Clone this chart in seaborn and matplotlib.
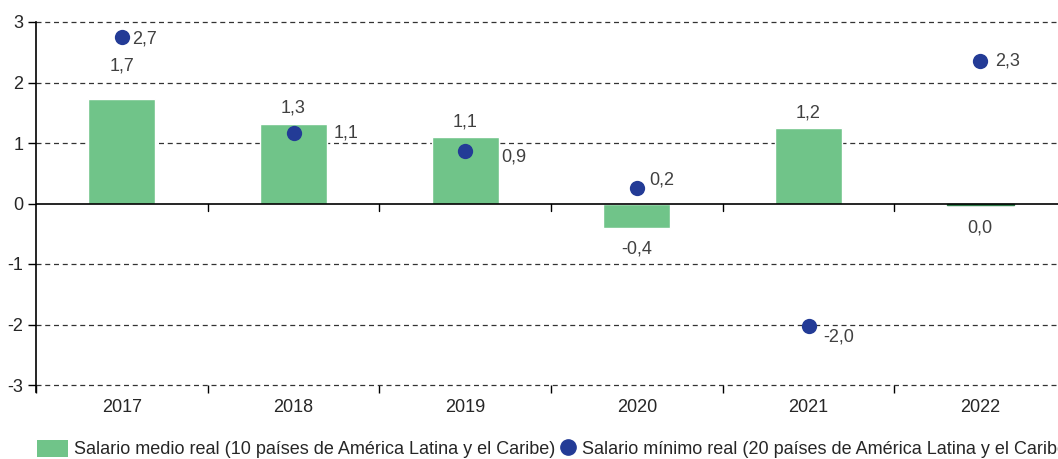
import numpy as np
import pandas as pd
import matplotlib.pyplot as plt
import seaborn as sns
from matplotlib.patches import Patch
from matplotlib.lines import Line2D

years = ['2017', '2018', '2019', '2020', '2021', '2022']
medio = [1.73, 1.32, 1.10, -0.40, 1.25, -0.02]
minimo = [2.76, 1.16, 0.86, 0.25, -2.03, 2.36]
medio_lbl = ['1,7', '1,3', '1,1', '-0,4', '1,2', '0,0']
minimo_lbl = ['2,7', '1,1', '0,9', '0,2', '-2,0', '2,3']
yticks = [3, 2, 1, 0, -1, -2, -3]

green = '#70C489'
blue = '#233B96'
lblcol = '#404040'
fs = 13

sns.set_style('white')
plt.rcParams['font.family'] = ['Liberation Sans', 'DejaVu Sans']

df = pd.DataFrame({'year': years, 'medio': medio, 'minimo': minimo})

fig = plt.figure(figsize=(10.58, 4.59), dpi=100)
ax = fig.add_axes([36 / 1058, 74 / 459, 1030 / 1058, 363 / 459])

sns.barplot(data=df, x='year', y='medio', color=green, width=0.39,
            saturation=1, ax=ax, zorder=2)
# the near-zero 2022 bar shows as a thin dark line
ax.patches[-1].set_edgecolor('#2f7a4a')
ax.patches[-1].set_linewidth(1)
sns.stripplot(data=df, x='year', y='minimo', color=blue, jitter=False,
              size=11, linewidth=0, ax=ax, zorder=4)

ax.set_xlim(-0.5, len(years) - 0.5)
ax.set_ylim(-3, 3)
ax.set_yticks(yticks)
ax.set_yticklabels([str(t) for t in yticks], fontsize=fs)
for t in yticks:
    if t != 0:
        ax.axhline(t, color='#333333', lw=0.9, ls=(0, (4, 3)), zorder=1, clip_on=False)
ax.axhline(0, color='black', lw=1.2, zorder=3)

# tick marks on zero line at category boundaries
for b in np.arange(0.5, len(years) - 0.5, 1):
    ax.plot([b, b], [0, -0.13], color='black', lw=1, zorder=3, clip_on=False)

ax.set_xticks(range(len(years)))
ax.set_xticklabels(years, fontsize=fs)
ax.set_xticks(np.arange(-0.5, len(years), 1), minor=True)
ax.tick_params(axis='x', which='major', length=0, pad=10, bottom=True)
ax.tick_params(axis='x', which='minor', length=6, width=1, color='black',
               direction='out', bottom=True)
ax.tick_params(axis='y', length=6, width=1, color='black', direction='out', left=True, pad=3)
ax.set_xlabel('')
ax.set_ylabel('')
for s in ['top', 'right', 'bottom']:
    ax.spines[s].set_visible(False)
ax.spines['left'].set_color('black')
ax.spines['left'].set_linewidth(1.2)
ax.spines['left'].set_bounds(-3.12, 3)

# bar labels
bar_off = [24, 11, 11, -15, 11, -17]
for i, (v, l) in enumerate(zip(medio, medio_lbl)):
    ax.annotate(l, (i, v), xytext=(0, bar_off[i]), textcoords='offset points',
                ha='center', va='center', fontsize=fs, color=lblcol)

# dot labels
dot_off = [(16, -2), (38, 0), (35, -4), (18, 6), (22, -8), (20, 0)]
for i, (v, l) in enumerate(zip(minimo, minimo_lbl)):
    ax.annotate(l, (i, v), xytext=dot_off[i], textcoords='offset points',
                ha='center', va='center', fontsize=fs, color=lblcol)

labels = ['Salario medio real (10 países de América Latina y el Caribe)',
          'Salario mínimo real (20 países de América Latina y el Caribe)']
leg1 = fig.legend([Patch(facecolor=green, edgecolor='none')], [labels[0]],
                  loc='center left', bbox_to_anchor=(30 / 1058, 1 - 449 / 459),
                  frameon=False, fontsize=fs, handlelength=1.7, handletextpad=0.35,
                  handleheight=1.1, borderaxespad=0)
fig.legend([Line2D([], [], marker='o', color=blue, ls='none', markersize=11)], [labels[1]],
           loc='center left', bbox_to_anchor=(553 / 1058, 1 - 449 / 459),
           frameon=False, fontsize=fs, handlelength=0.9, handletextpad=0.3,
           borderaxespad=0)

fig.savefig('out.png', dpi=100)
